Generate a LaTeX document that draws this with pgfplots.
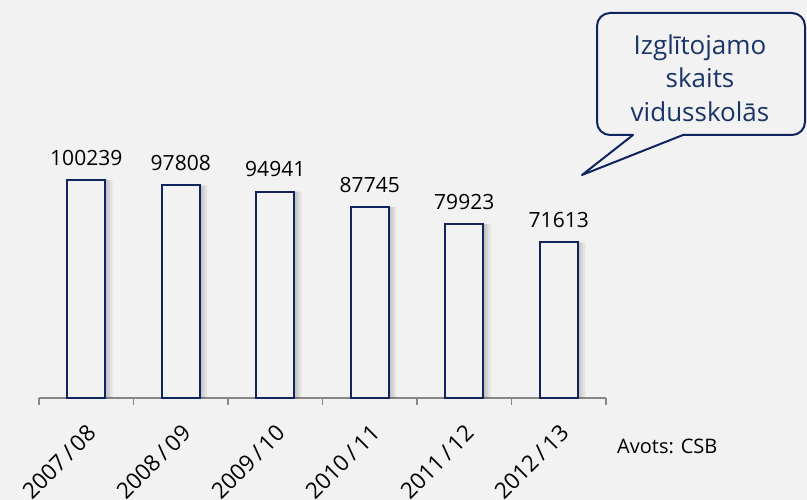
\documentclass[border=0pt]{standalone}
\usepackage{pgfplots}
\pgfplotsset{compat=1.18}
\usepackage{fontspec}
\setmainfont{Open Sans}
\definecolor{bg}{HTML}{F2F2F2}
\definecolor{navy}{HTML}{10255F}
\definecolor{axgray}{HTML}{878787}
\definecolor{calltext}{HTML}{1A3466}
\begin{document}
\begin{tikzpicture}[x=1pt,y=1pt]
\fill[bg] (-39,-102) rectangle (768,398);
\path[use as bounding box] (-39,-102) rectangle (768,398);
\begin{axis}[
  at={(0,0)}, anchor=south west,
  scale only axis, width=567pt, height=250.1pt,
  xmin=-0.5, xmax=5.5, ymin=0, ymax=115000,
  clip=false,
  axis x line=bottom, axis y line=none,
  axis line style={axgray, line width=1.6pt, -},
  ybar, bar width=38pt,
  xtick={0,1,2,3,4,5},
  xticklabels={2007\,/\,08,2008\,/\,09,2009\,/\,10,2010\,/\,11,2011\,/\,12,2012\,/\,13},
  major tick length=0pt,
  minor xtick={-0.5,0.5,1.5,2.5,3.5,4.5,5.5},
  minor tick length=7pt,
  tick align=outside,
  minor tick style={axgray, line width=1.4pt},
  xticklabel style={font=\fontsize{22.5}{24}\selectfont, xshift=6pt, yshift=-31pt, rotate=45, anchor=east, inner sep=0pt},
]
\addplot[fill=black, fill opacity=0.07, draw=none, bar shift=2.5pt] coordinates {(0,100239) (1,97808) (2,94941) (3,87745) (4,79923) (5,71613)};
\addplot[fill=black, fill opacity=0.07, draw=none, bar shift=5pt] coordinates {(0,100239) (1,97808) (2,94941) (3,87745) (4,79923) (5,71613)};
\addplot[fill=black, fill opacity=0.06, draw=none, bar shift=7.5pt] coordinates {(0,100239) (1,97808) (2,94941) (3,87745) (4,79923) (5,71613)};
\addplot[fill=bg, draw=navy, line width=2pt, bar shift=0pt,
  nodes near coords,
  every node near coord/.append style={font=\fontsize{21}{24}\selectfont, black, yshift=10pt},
  point meta=explicit symbolic]
  coordinates {(0,100239)[100239] (1,97808)[97808] (2,94941)[94941] (3,87745)[87745] (4,79923)[79923] (5,71613)[71613]};
\end{axis}
\draw[navy, line width=2pt, fill=bg, line join=round]
  (543,223) -- (594,263) [rounded corners=13pt] -- (558,263) -- (558,385) -- (766,385) -- (766,263) [sharp corners] -- (644,263) -- cycle;
\node[align=center, text=calltext, font=\fontsize{26}{33.5}\selectfont] at (661,320) {Izglītojamo\\skaits\\vidusskolās};
\node[anchor=west, font=\fontsize{20}{22}\selectfont, inner sep=0pt] at (578,-48) {Avots: CSB};
\end{tikzpicture}
\end{document}
